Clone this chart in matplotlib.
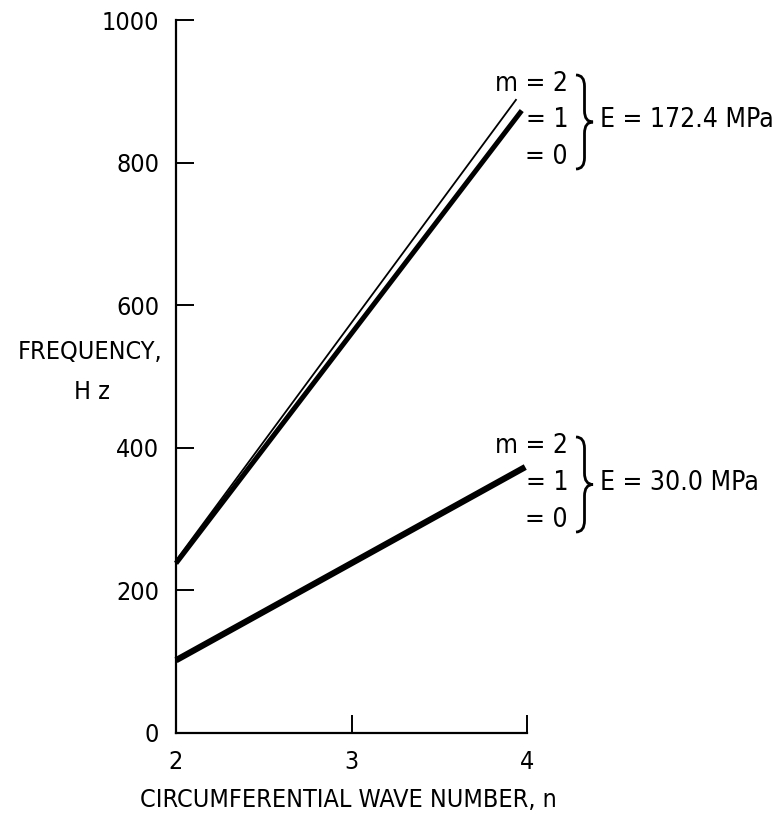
import numpy as np
import matplotlib
matplotlib.use('Agg')
import matplotlib.pyplot as plt
from matplotlib.path import Path
from matplotlib.patches import PathPatch

plt.rcParams['font.family'] = ['DejaVu Sans']
plt.rcParams['font.stretch'] = 'condensed'

# values (n, frequency in Hz)
n_hi_m2 = [2.0, 3.94]
f_hi_m2 = [242, 889]
n_hi_m10 = [2.0, 3.97]
f_hi_m10 = [238, 873]
n_lo = [2.0, 3.99]
f_lo = [102, 373]

xticks = [2, 3, 4]
yticks = [0, 200, 400, 600, 800, 1000]

W, H = 774, 815


def px(x, y):
    # pixel position (from top-left) -> figure fraction
    return x / W, 1 - y / H


def brace(fig, x0, top, bot, w, lw=2.0):
    # right-pointing curly brace drawn in figure fractions
    x0, top = px(x0, top)
    _, bot = px(0, bot)
    w = w / W
    mid = (top + bot) / 2
    r = (top - bot) * 0.12
    xm = x0 + w / 2
    verts = [(x0, top), (xm, top), (xm, top - r),
             (xm, mid + r), (xm, mid), (x0 + w, mid),
             (xm, mid), (xm, mid - r),
             (xm, bot + r), (xm, bot), (x0, bot)]
    codes = [Path.MOVETO, Path.CURVE3, Path.CURVE3,
             Path.LINETO, Path.CURVE3, Path.CURVE3,
             Path.CURVE3, Path.CURVE3,
             Path.LINETO, Path.CURVE3, Path.CURVE3]
    fig.add_artist(PathPatch(Path(verts, codes), fill=False, lw=lw,
                             color='black', transform=fig.transFigure))


fig = plt.figure(figsize=(W / 100, H / 100), dpi=100)
ax = fig.add_axes([176 / W, 1 - 733 / H, (527 - 176) / W, (733 - 20) / H])

ax.plot(n_hi_m2, f_hi_m2, color='black', lw=1.3, solid_capstyle='butt', clip_on=False)
ax.plot(n_hi_m10, f_hi_m10, color='black', lw=3.6, solid_capstyle='butt', clip_on=False)
ax.plot(n_lo, f_lo, color='black', lw=4.5, solid_capstyle='butt', clip_on=False)

ax.set_xlim(2, 4)
ax.set_ylim(0, 1000)
ax.spines['top'].set_visible(False)
ax.spines['right'].set_visible(False)
for s in ['left', 'bottom']:
    ax.spines[s].set_linewidth(1.6)

ax.set_xticks(xticks)
ax.set_yticks(yticks)
ax.tick_params(axis='both', direction='in', length=13, width=1.4, labelsize=18, color='black')
ax.tick_params(axis='y', pad=12)
ax.tick_params(axis='x', pad=12)
ax.yaxis.get_major_ticks()[0].tick1line.set_visible(False)
ax.xaxis.get_major_ticks()[0].tick1line.set_visible(False)

fig.text(*px(90, 352), 'FREQUENCY,', fontsize=18, ha='center', va='center')
fig.text(*px(92, 392), 'H z', fontsize=18, ha='center', va='center')
fig.text(*px(348, 800), 'CIRCUMFERENTIAL WAVE NUMBER, n', fontsize=18, ha='center', va='center')

# curve labels
for rows, e_lab in [((84, 120, 157), 'E = 172.4 MPa'), ((446, 483, 520), 'E = 30.0 MPa')]:
    for y, t in zip(rows, ['m = 2', '= 1', '= 0']):
        fig.text(*px(568, y), t, fontsize=19, ha='right', va='center')
    brace(fig, 576, rows[0] - 9, rows[2] + 12, 17)
    fig.text(*px(600, rows[1]), e_lab, fontsize=19, ha='left', va='center')

fig.savefig('out.png', dpi=100)
